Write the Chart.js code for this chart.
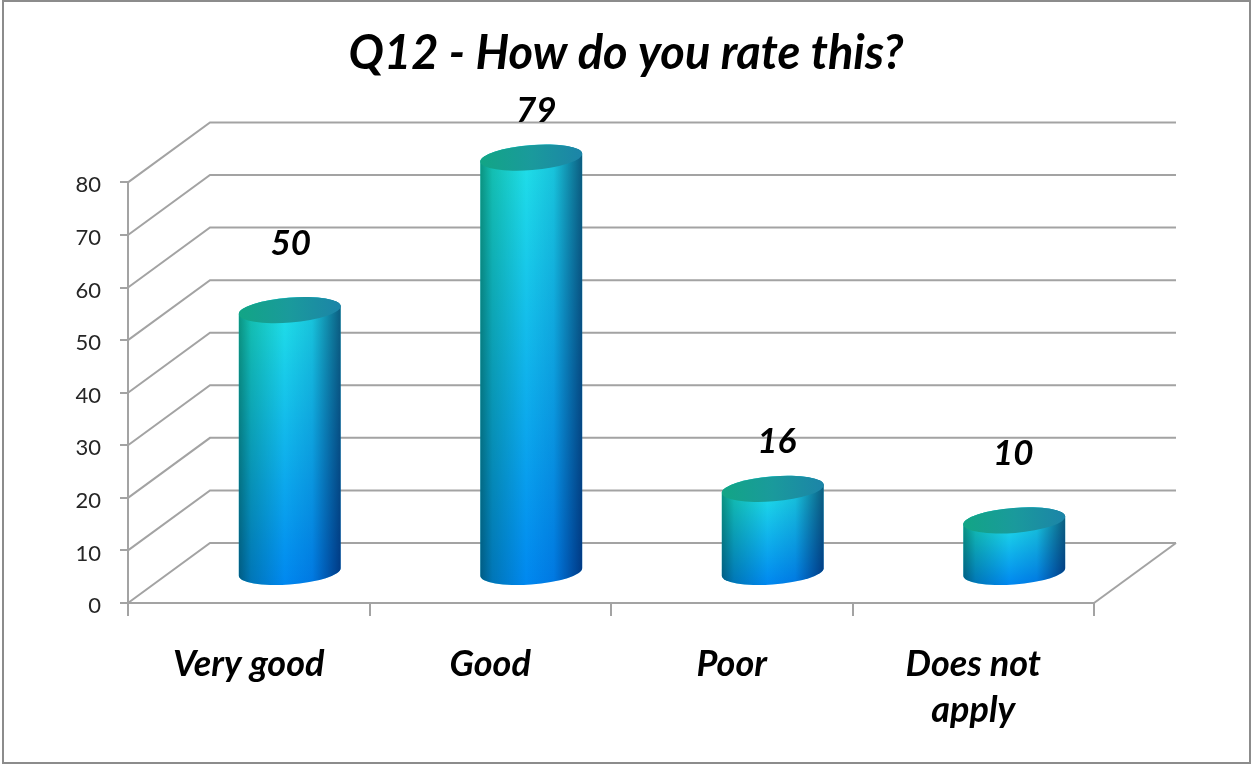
<!DOCTYPE html>
<html>
<head>
<meta charset="utf-8">
<title>Q12 - How do you rate this?</title>
<style>
    html, body { margin: 0; padding: 0; background: #fff; }
    #chartBox { width: 1252px; height: 765px; }
</style>
<script src="https://cdn.jsdelivr.net/npm/chart.js@4/dist/chart.umd.min.js"></script>
</head>
<body>
<div id="chartBox"><canvas id="ratingChart"></canvas></div>
<script>
// Chart data
const categories = ['Very good', 'Good', 'Poor', ['Does not', 'apply']];
const ratings = [50, 79, 16, 10];
const yTicks = [0, 10, 20, 30, 40, 50, 60, 70, 80];

// Fake 3D look
const depthX = 82;
const depthY = 60;
const gridColor = '#a3a3a3';
const labelLift = [66, 47, 47, 67];
const labelShift = [1, 5, 4, -1];

// Grey frame round the whole chart
const framePlugin = {
    id: 'frame',
    beforeDraw(chart) {
        const ctx = chart.ctx;
        ctx.save();
        ctx.fillStyle = '#fff';
        ctx.fillRect(0, 0, chart.width, chart.height);
        ctx.strokeStyle = '#8c8c8c';
        ctx.lineWidth = 2;
        ctx.strokeRect(3, 1, chart.width - 5, chart.height - 3);
        ctx.restore();
    }
};

// Side wall and back wall grid lines
const wallPlugin = {
    id: 'walls',
    beforeDatasetsDraw(chart) {
        const ctx = chart.ctx;
        const area = chart.chartArea;
        const y = chart.scales.y;
        ctx.save();
        ctx.strokeStyle = gridColor;
        ctx.lineWidth = 2;
        yTicks.forEach(tick => {
            const py = y.getPixelForValue(tick);
            ctx.beginPath();
            ctx.moveTo(area.left, py);
            ctx.lineTo(area.left + depthX, py - depthY);
            ctx.lineTo(area.right + depthX, py - depthY);
            ctx.stroke();
        });
        // floor edge on the right
        ctx.beginPath();
        ctx.moveTo(area.right, area.bottom);
        ctx.lineTo(area.right + depthX, area.bottom - depthY);
        ctx.stroke();
        ctx.restore();
    }
};

function cylinderPath(ctx, cx, topY, baseY, rx, ry, rot) {
    // angle where the tilted ellipse reaches its rightmost point
    const a0 = Math.atan2(-ry * Math.sin(rot), rx * Math.cos(rot));
    ctx.beginPath();
    ctx.ellipse(cx, baseY, rx, ry, rot, a0, a0 + Math.PI);
    ctx.ellipse(cx, topY, rx, ry, rot, a0 + Math.PI, a0 + 2 * Math.PI);
    ctx.closePath();
}

function drawCylinder(ctx, bar) {
    const cx = bar.x + depthX / 2;
    const topY = bar.y - depthY / 2;
    const baseY = bar.base - depthY / 2;
    const rx = bar.width / 2;
    const ry = 12.5;
    const rot = -0.08;
    const left = cx - rx;
    const right = cx + rx;

    ctx.save();
    cylinderPath(ctx, cx, topY, baseY, rx, ry, rot);
    ctx.clip();

    const body = ctx.createLinearGradient(0, topY, 0, baseY + ry);
    body.addColorStop(0, '#20dfe8');
    body.addColorStop(1, '#0088f0');
    ctx.fillStyle = body;
    ctx.fillRect(left - 2, topY - 20, bar.width + 4, baseY - topY + 40);

    // side shading
    const shade = ctx.createLinearGradient(left, 0, right, 0);
    shade.addColorStop(0, 'rgb(90,170,140)');
    shade.addColorStop(0.12, 'rgb(160,220,195)');
    shade.addColorStop(0.45, 'rgb(255,255,255)');
    shade.addColorStop(0.72, 'rgb(200,225,240)');
    shade.addColorStop(1, 'rgb(90,105,140)');
    ctx.globalCompositeOperation = 'multiply';
    ctx.fillStyle = shade;
    ctx.fillRect(left - 2, topY - 20, bar.width + 4, baseY - topY + 40);
    ctx.restore();

    // top cap
    const cap = ctx.createLinearGradient(left, 0, right, 0);
    cap.addColorStop(0, '#12a585');
    cap.addColorStop(0.5, '#1a9a9c');
    cap.addColorStop(1, '#1c84a8');
    ctx.save();
    ctx.fillStyle = cap;
    ctx.beginPath();
    ctx.ellipse(cx, topY, rx, ry, rot, 0, 2 * Math.PI);
    ctx.fill();
    ctx.restore();
}

// The bars are drawn as cylinders from the bar elements of the chart
const cylinderPlugin = {
    id: 'cylinders',
    afterDatasetsDraw(chart) {
        const ctx = chart.ctx;
        const bars = chart.getDatasetMeta(0).data;
        bars.forEach(bar => drawCylinder(ctx, bar));

        ctx.save();
        ctx.fillStyle = '#000';
        ctx.font = 'italic bold 35px Lato';
        ctx.textAlign = 'center';
        ctx.textBaseline = 'middle';
        bars.forEach((bar, i) => {
            const px = bar.x + depthX / 2 + labelShift[i];
            const py = bar.y - depthY / 2 - labelLift[i];
            ctx.fillText(String(ratings[i]), px, py);
        });
        ctx.restore();
    }
};

new Chart(document.getElementById('ratingChart'), {
    type: 'bar',
    data: {
        labels: categories,
        datasets: [{
            label: 'Q12',
            data: ratings,
            backgroundColor: 'rgba(0,0,0,0)',
            barPercentage: 0.423,
            categoryPercentage: 1
        }]
    },
    plugins: [framePlugin, wallPlugin, cylinderPlugin],
    options: {
        responsive: true,
        maintainAspectRatio: false,
        animation: false,
        plugins: {
            legend: { display: false },
            tooltip: { enabled: false },
            title: {
                display: true,
                text: 'Q12 - How do you rate this?',
                color: '#000',
                font: { family: 'Lato', size: 47, weight: 'bold', style: 'italic', lineHeight: 1.2 },
                padding: { top: 26, bottom: 100 }
            }
        },
        scales: {
            x: {
                afterFit(scale) { scale.height = 162; },
                grid: { drawOnChartArea: false, tickLength: 13, color: gridColor, lineWidth: 2 },
                border: { color: gridColor, width: 2 },
                ticks: {
                    color: '#000',
                    padding: 25,
                    maxRotation: 0,
                    font: { family: 'Lato', size: 36, weight: 'bold', style: 'italic', lineHeight: 1.28 }
                }
            },
            y: {
                min: 0,
                max: 80,
                afterFit(scale) { scale.width = 128; },
                afterBuildTicks(scale) { scale.ticks = yTicks.map(v => ({ value: v })); },
                grid: { drawOnChartArea: false, tickLength: 8, color: gridColor, lineWidth: 2 },
                border: { color: gridColor, width: 2 },
                ticks: {
                    color: '#262626',
                    padding: 19,
                    labelOffset: 3,
                    font: { family: 'Lato', size: 22 }
                }
            },
            // empty axis, only keeps the space on the right of the plot
            rightGap: {
                position: 'right',
                afterFit(scale) { scale.width = 158; },
                grid: { display: false },
                border: { display: false },
                ticks: { display: false }
            }
        }
    }
});
</script>
</body>
</html>
